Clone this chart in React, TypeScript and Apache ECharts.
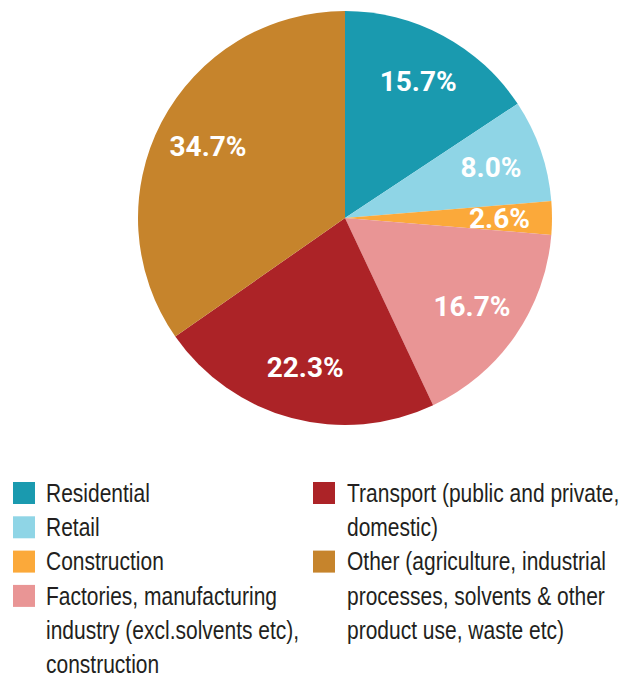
import React, { useEffect, useRef } from "react";
import * as echarts from "echarts";

const categories = [
  "Residential",
  "Retail",
  "Construction",
  "Factories, manufacturing industry (excl.solvents etc), construction",
  "Transport (public and private, domestic)",
  "Other (agriculture, industrial processes, solvents & other product use, waste etc)",
];
const legendLines = [
  ["Residential"],
  ["Retail"],
  ["Construction"],
  ["Factories, manufacturing", "industry (excl.solvents etc),", "construction"],
  ["Transport (public and private,", "domestic)"],
  ["Other (agriculture, industrial", "processes, solvents & other", "product use, waste etc)"],
];
const legendColumn = [0, 0, 0, 0, 1, 1];
const values = [15.7, 8.0, 2.6, 16.7, 22.3, 34.7];
const colors = ["#1a9aaf", "#8fd5e6", "#fba93a", "#e99595", "#ac2327", "#c6842c"];

const FONT = "'Liberation Sans', Arial, sans-serif";

export default function App() {
  const ref = useRef<HTMLDivElement>(null);
  useEffect(() => {
    if (!ref.current) return;
    const chart = echarts.init(ref.current, null, { renderer: "svg" });
    const data = categories.map((name, i) => ({
      name,
      value: values[i],
      itemStyle: { color: colors[i] },
    }));

    const graphic: any[] = [];
    const colX = [13, 313];
    const textX = [46, 347];
    const rowY0 = 493;
    const lineH = 34.3;
    const rowCounter = [0, 0];
    legendLines.forEach((lines, i) => {
      const c = legendColumn[i];
      const row = rowCounter[c];
      const y = rowY0 + row * lineH;
      graphic.push({
        type: "rect",
        shape: { x: colX[c], y: y - 11, width: 22, height: 22 },
        style: { fill: colors[i] },
      });
      lines.forEach((ln, k) => {
        graphic.push({
          type: "text",
          x: textX[c],
          y: y + k * lineH,
          scaleX: 0.84,
          style: {
            text: ln,
            fill: "#231f20",
            font: `25px ${FONT}`,
            textVerticalAlign: "middle",
            textAlign: "left",
          },
        });
      });
      rowCounter[c] += lines.length;
    });

    chart.setOption({
      animation: false,
      backgroundColor: "#ffffff",
      graphic,
      series: [
        {
          type: "pie",
          center: [345, 218],
          radius: [0, 207],
          startAngle: 90,
          clockwise: true,
          data,
          label: { show: false },
          labelLine: { show: false },
          silent: true,
        },
        {
          type: "pie",
          center: [345, 218],
          radius: [96, 207],
          startAngle: 90,
          clockwise: true,
          data: categories.map((name, i) => ({ name, value: values[i] })),
          itemStyle: { color: "rgba(0,0,0,0)" },
          label: {
            show: true,
            position: "inside",
            formatter: (p: any) => `${p.value.toFixed(1)}%`,
            color: "#ffffff",
            fontWeight: "bold",
            fontSize: 28,
            fontFamily: "Roboto, sans-serif",
          },
          labelLine: { show: false },
          silent: true,
          z: 3,
        },
      ],
    });
    return () => chart.dispose();
  }, []);
  return (
    <div
      ref={ref}
      style={{ position: "absolute", left: 0, top: 0, width: 632, height: 679 }}
    />
  );
}
